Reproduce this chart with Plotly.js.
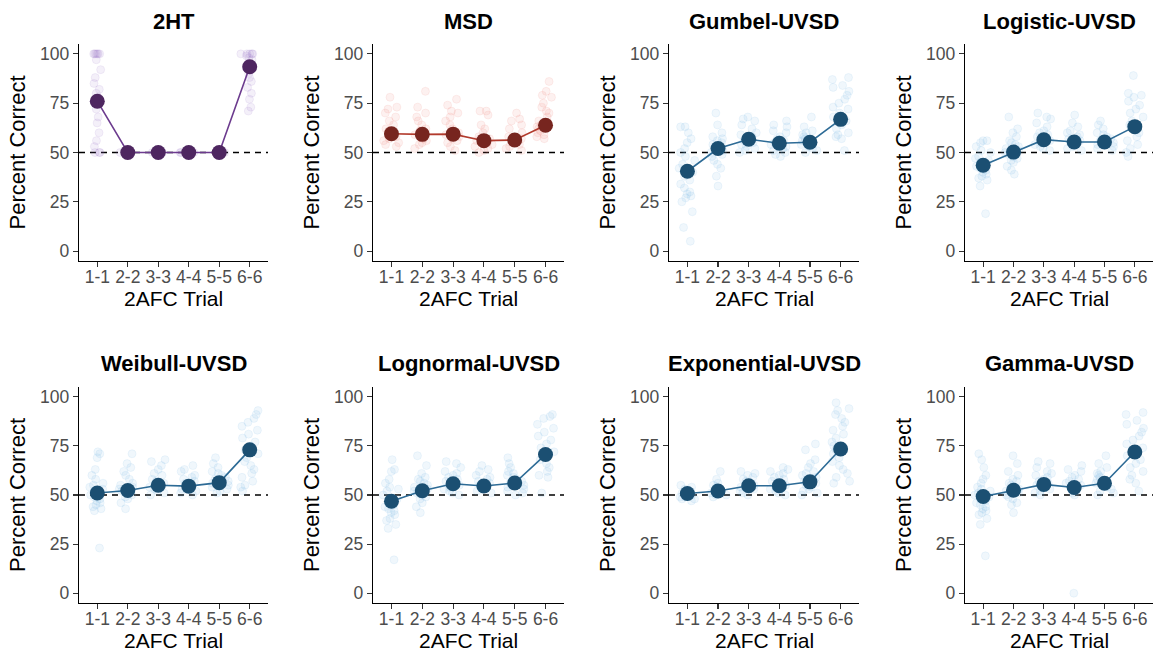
<!DOCTYPE html>
<html>
<head>
<meta charset="utf-8">
<script src="https://cdn.plot.ly/plotly-3.0.1.min.js"></script>
<style>html,body{margin:0;padding:0;background:#fff;}#chart{width:1153px;height:652px;}</style>
</head>
<body>
<div id="chart"></div>
<script>
// ---------- DATA ----------
const trials = ["1-1", "2-2", "3-3", "4-4", "5-5", "6-6"];
const models = ["2HT", "MSD", "Gumbel-UVSD", "Logistic-UVSD", "Weibull-UVSD", "Lognormal-UVSD", "Exponential-UVSD", "Gamma-UVSD"];
const xTitle = "2AFC Trial";
const yTitle = "Percent Correct";

// mean percent correct per trial
const mean_2HT = [76, 50, 50, 50, 50, 93.5];
const mean_MSD = [59.5, 59.2, 59.3, 56, 56.3, 63.8];
const mean_Gumbel = [40.5, 52, 56.7, 54.7, 55.2, 66.8];
const mean_Logistic = [43.5, 50.2, 56.5, 55.3, 55.3, 63.1];
const mean_Weibull = [51, 52.3, 55, 54.5, 56.3, 73];
const mean_Lognormal = [46.8, 52.2, 55.7, 54.6, 56.1, 70.6];
const mean_Exponential = [50.8, 52, 54.7, 54.7, 56.7, 73.4];
const mean_Gamma = [49.2, 52.4, 55.4, 53.8, 56, 71.9];

// individual simulated participants (approximate reads), one list per trial
const pts_2HT = [
  [100,100,100,100,100,100,97,92,88,85,82,80,78,75,72,68,65,60,56,53,50,50,50],
  [50,50,50], [50,50,50], [50,50,50], [50,50,50],
  [100,100,100,100,100,99,98,97,95,93,90,88,86,83,80,77,73,71]
];
const pts_MSD = [
  [78,73,72,70,68,66,64,62,61,60,59,58,57,56,55,54,53],
  [81,73,70,68,66,64,62,61,60,59,58,57,56,55,54,52],
  [77,74,71,70,68,66,64,62,60,59,58,57,56,55,53,51],
  [71,71,69,64,62,60,58,57,56,55,54,53,52,51,50],
  [70,67,66,64,62,60,58,57,56,55,54,53,52,51],
  [86,81,79,78,75,73,71,70,68,66,65,64,63,62,61,60,59,58,57]
];
const pts_Gumbel = [
  [63,63,60,57,55,52,50,48,46,44,42,40,38,36,34,32,30,29,28,27,25,20,12,5],
  [70,64,60,58,57,56,55,54,53,52,51,50,49,48,46,44,42,38,33],
  [68,67,66,64,62,60,59,58,57,56,55,54,53,52,51,50],
  [66,64,63,61,60,58,57,56,55,54,53,52,51,50,49,48],
  [68,63,61,60,59,58,57,56,55,54,53,52,51,50],
  [88,87,84,83,81,79,77,75,73,72,70,68,66,64,62,60,59,58,57,51]
];
const pts_Logistic = [
  [56,56,55,53,51,50,48,47,46,45,44,43,42,41,40,39,38,37,36,33,19],
  [68,62,60,58,56,55,54,53,52,51,50,49,48,47,46,45,43,41,39],
  [70,68,67,65,63,61,60,59,58,57,56,55,54,53,52,51],
  [69,65,63,61,60,59,58,57,56,55,54,53,52,51],
  [66,64,62,60,59,58,57,56,55,54,53,52,51],
  [89,80,79,78,76,74,72,70,68,66,64,62,60,58,56,54,52,50,48]
];
const pts_Weibull = [
  [72,71,69,63,60,58,56,55,54,53,52,51,50,49,48,47,46,45,44,43,42,23],
  [71,66,64,62,60,58,56,55,54,53,52,51,50,49,48,46,43],
  [68,67,65,63,61,60,58,57,56,55,54,53,52,51,50],
  [65,63,62,60,59,58,57,56,55,54,53,52,51,50],
  [69,66,64,62,61,60,59,58,57,56,55,54,53,52,51],
  [93,91,89,87,85,83,81,79,77,75,73,71,69,67,65,63,61,59,57,55,54,52]
];
const pts_Lognormal = [
  [68,63,62,58,56,54,53,52,50,48,46,45,44,43,42,41,40,38,37,35,33,17],
  [70,65,61,59,58,57,56,55,54,53,52,51,50,49,48,46,44,41],
  [67,66,64,62,61,60,59,58,57,56,55,54,53,52,51,50],
  [65,63,62,60,59,58,57,56,55,54,53,52,51],
  [69,66,64,62,61,60,59,58,57,56,55,54,53,52,51,50],
  [91,90,89,86,84,82,80,78,76,74,72,70,68,66,64,62,60,59,51]
];
const pts_Exponential = [
  [55,54,53,52,51,51,50,50,50,49,49,48,48,47],
  [62,58,56,55,54,53,52,52,51,51,50,50,49],
  [62,61,60,59,58,57,56,55,54,53,52,51,50],
  [64,63,62,61,60,59,58,57,56,55,54,53,52,51,50],
  [76,73,68,66,64,62,61,60,59,58,57,56,55,54,53,52,51,50],
  [97,94,93,91,89,87,85,83,81,79,77,75,73,71,69,67,65,63,61,59,57,56]
];
const pts_Gamma = [
  [71,68,64,60,58,56,54,53,52,51,50,49,48,47,46,45,44,43,42,41,40,38,35,19],
  [70,66,62,60,58,57,56,55,54,53,52,51,50,49,48,46,45,41],
  [67,66,64,62,61,60,59,58,57,56,55,54,53,52,51,50],
  [65,63,62,60,59,58,57,56,55,54,53,52,51,50,0],
  [70,66,64,62,61,60,59,58,57,56,55,54,53,52,51,50],
  [92,91,88,86,84,82,80,78,76,74,72,70,68,66,64,62,60,58,56,52]
];
const yTicks = [0, 25, 50, 75, 100];
const chanceLevel = 50;

// ---------- BUILD ----------
const means = [mean_2HT, mean_MSD, mean_Gumbel, mean_Logistic, mean_Weibull, mean_Lognormal, mean_Exponential, mean_Gamma];
const points = [pts_2HT, pts_MSD, pts_Gumbel, pts_Logistic, pts_Weibull, pts_Lognormal, pts_Exponential, pts_Gamma];

const palettes = {
  purple: {pt: 'rgba(150,110,200,0.10)', ptl: 'rgba(150,110,200,0.10)', line: '#6c3b8e', mark: '#4e2660'},
  red:    {pt: 'rgba(235,120,105,0.10)', ptl: 'rgba(235,120,105,0.10)', line: '#b23a2c', mark: '#77251f'},
  blue:   {pt: 'rgba(120,180,230,0.11)', ptl: 'rgba(120,180,230,0.11)', line: '#2d6b96', mark: '#1b4f72'}
};
const panelPalette = ['purple', 'red', 'blue', 'blue', 'blue', 'blue', 'blue', 'blue'];

const W = 1153, H = 652;
const colPx = [[79, 268], [373, 564], [669, 859], [965, 1153]];
const rowPx = [[44, 261], [387, 603]];
const titleY = [21, 363];
const xTitleY = [298, 640];

const FONT = 'Liberation Sans, Arial, sans-serif';
const traces = [];
const layout = {
  width: W, height: H,
  margin: {l: 0, r: 0, t: 0, b: 0},
  paper_bgcolor: '#fff', plot_bgcolor: '#fff',
  showlegend: false,
  font: {family: FONT},
  annotations: [], shapes: []
};

models.forEach((name, i) => {
  const r = Math.floor(i / 4), c = i % 4;
  const xa = i === 0 ? 'x' : 'x' + (i + 1);
  const ya = i === 0 ? 'y' : 'y' + (i + 1);
  const pal = palettes[panelPalette[i]];

  const bx = [], by = [];
  points[i].forEach((arr, k) => arr.forEach(v => { bx.push(trials[k]); by.push(v); }));
  traces.push({
    type: 'box', x: bx, y: by, xaxis: xa, yaxis: ya,
    boxpoints: 'all', jitter: 1, pointpos: 0, width: 0.6,
    fillcolor: 'rgba(0,0,0,0)', line: {color: 'rgba(0,0,0,0)', width: 0},
    whiskerwidth: 0,
    marker: {size: 8, color: pal.pt, line: {color: pal.ptl, width: 1}},
    hoverinfo: 'y'
  });
  traces.push({
    type: 'scatter', mode: 'lines+markers', x: trials, y: means[i], xaxis: xa, yaxis: ya,
    line: {color: pal.line, width: 1.6},
    marker: {size: 15, color: pal.mark},
    hoverinfo: 'x+y'
  });

  const xd = [colPx[c][0] / W, colPx[c][1] / W];
  const yd = [1 - rowPx[r][1] / H, 1 - rowPx[r][0] / H];
  const axKey = i === 0 ? '' : String(i + 1);
  layout['xaxis' + axKey] = {
    domain: xd, anchor: ya, type: 'category',
    categoryorder: 'array', categoryarray: trials,
    range: [-0.6, 5.6],
    showgrid: false, zeroline: false,
    showline: true, linecolor: '#000', linewidth: 1.2,
    ticks: 'outside', ticklen: 5, tickwidth: 1.1, tickcolor: '#333',
    ticklabelstandoff: -5,
    tickfont: {size: 17.5, color: '#4d4d4d', family: FONT},
    fixedrange: true
  };
  layout['yaxis' + axKey] = {
    domain: yd, anchor: xa,
    range: [-5, 105], tickvals: yTicks, ticktext: yTicks.map(String),
    showgrid: false, zeroline: false,
    showline: true, linecolor: '#000', linewidth: 1.2,
    ticks: 'outside', ticklen: 5, tickwidth: 1.1, tickcolor: '#333',
    tickfont: {size: 17.5, color: '#4d4d4d', family: FONT},
    title: {text: yTitle, font: {size: 22, color: '#000', family: FONT}, standoff: 8},
    fixedrange: true
  };
  layout.shapes.push({
    type: 'line', xref: xa + ' domain', yref: ya,
    x0: 0, x1: 1, y0: chanceLevel, y1: chanceLevel,
    line: {color: '#000', width: 1.3, dash: '6px,5px'}, layer: 'below'
  });
  layout.annotations.push({
    text: '<b>' + name + '</b>', xref: 'paper', yref: 'paper',
    x: (xd[0] + xd[1]) / 2, y: 1 - titleY[r] / H,
    xanchor: 'center', yanchor: 'middle', showarrow: false,
    font: {size: 22, color: '#000', family: FONT}
  });
  layout.annotations.push({
    text: xTitle, xref: 'paper', yref: 'paper',
    x: (xd[0] + xd[1]) / 2, y: 1 - xTitleY[r] / H,
    xanchor: 'center', yanchor: 'middle', showarrow: false,
    font: {size: 21, color: '#000', family: FONT}
  });
});

Plotly.newPlot('chart', traces, layout, {displayModeBar: false, staticPlot: true});
</script>
</body>
</html>
